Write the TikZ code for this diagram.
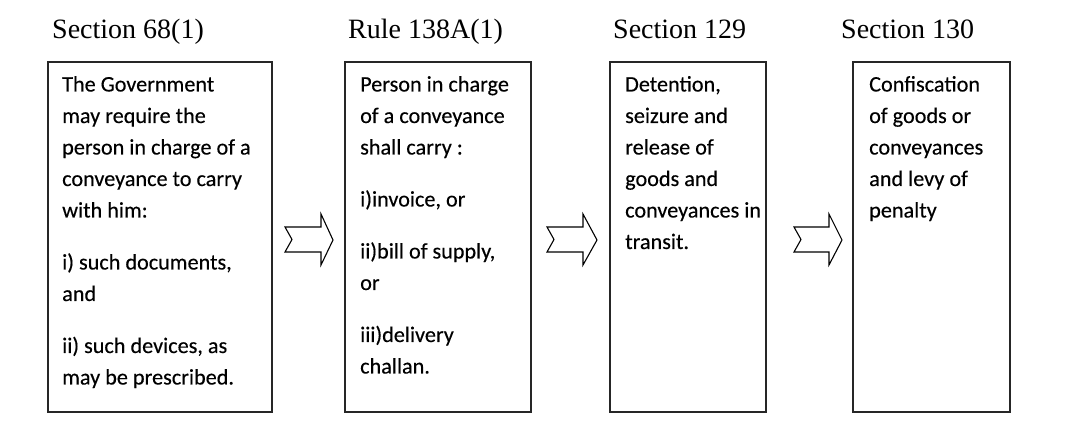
\documentclass[tikz,border=0pt]{standalone}
\usepackage{fontspec}
\setmainfont{Carlito}[FakeBold=0.3]
\newfontfamily\titlefont{Liberation Serif}
\begin{document}
\begin{tikzpicture}[x=1pt,y=-1pt,
  frame/.style={draw=black!85,line width=1.1pt},
  blockarrow/.style={draw=black,line width=1.1pt,fill=white,line join=miter},
  title/.style={anchor=base west,inner sep=0pt,font=\titlefont\fontsize{28}{30}\selectfont},
  txtline/.style={anchor=base west,inner sep=0pt,font=\fontsize{22.2}{26}\selectfont}]
\useasboundingbox (0,0) rectangle (1085,443);
% titles
\node[title] (t1) at (52,39) {Section 68(1)};
\node[title] (t2) at (348,39) {Rule 138A(1)};
\node[title] (t3) at (613,39) {Section 129};
\node[title] (t4) at (841,39) {Section 130};
% boxes
\draw[frame] (48,62) rectangle (272,412);
\draw[frame] (345,62) rectangle (531,412);
\draw[frame] (610,62) rectangle (766,412);
\draw[frame] (853,62) rectangle (1010,412);
% box 1 text
\foreach \yy/\tt [count=\i] in {91.5/{The Government},123/{may require the},154.5/{person in charge of a},186/{conveyance to carry},217.5/{with him:},269.5/{i) such documents,},301/{and},353/{ii) such devices, as},384.5/{may be prescribed.}}
  \node[txtline] (a\i) at (62,\yy) {\tt};
% box 2 text
\foreach \yy/\tt [count=\i] in {91.5/{Person in charge},123/{of a conveyance},154.5/{shall carry :},206.5/{i)invoice, or},258.5/{ii)bill of supply,},290/{or},342/{iii)delivery},373.5/{challan.}}
  \node[txtline] (b\i) at (360,\yy) {\tt};
% box 3 text
\foreach \yy/\tt [count=\i] in {91.5/{Detention,},123/{seizure and},154.5/{release of},186/{goods and},217.5/{conveyances in},249/{transit.}}
  \node[txtline] (c\i) at (625,\yy) {\tt};
% box 4 text
\foreach \yy/\tt [count=\i] in {91.5/{Confiscation},123/{of goods or},154.5/{conveyances},186/{and levy of},217.5/{penalty}}
  \node[txtline] (d\i) at (869,\yy) {\tt};
% block arrows
\foreach \tl/\hb/\tp in {285/321/333,547/583/597,794/829/842}
  \draw[blockarrow] (\tl,227) -- (\hb,227) -- (\hb,214) -- (\tp,240) -- (\hb,265) -- (\hb,252) -- (\tl,252) -- ({\tl+7},239.5) -- cycle;
\end{tikzpicture}
\end{document}
